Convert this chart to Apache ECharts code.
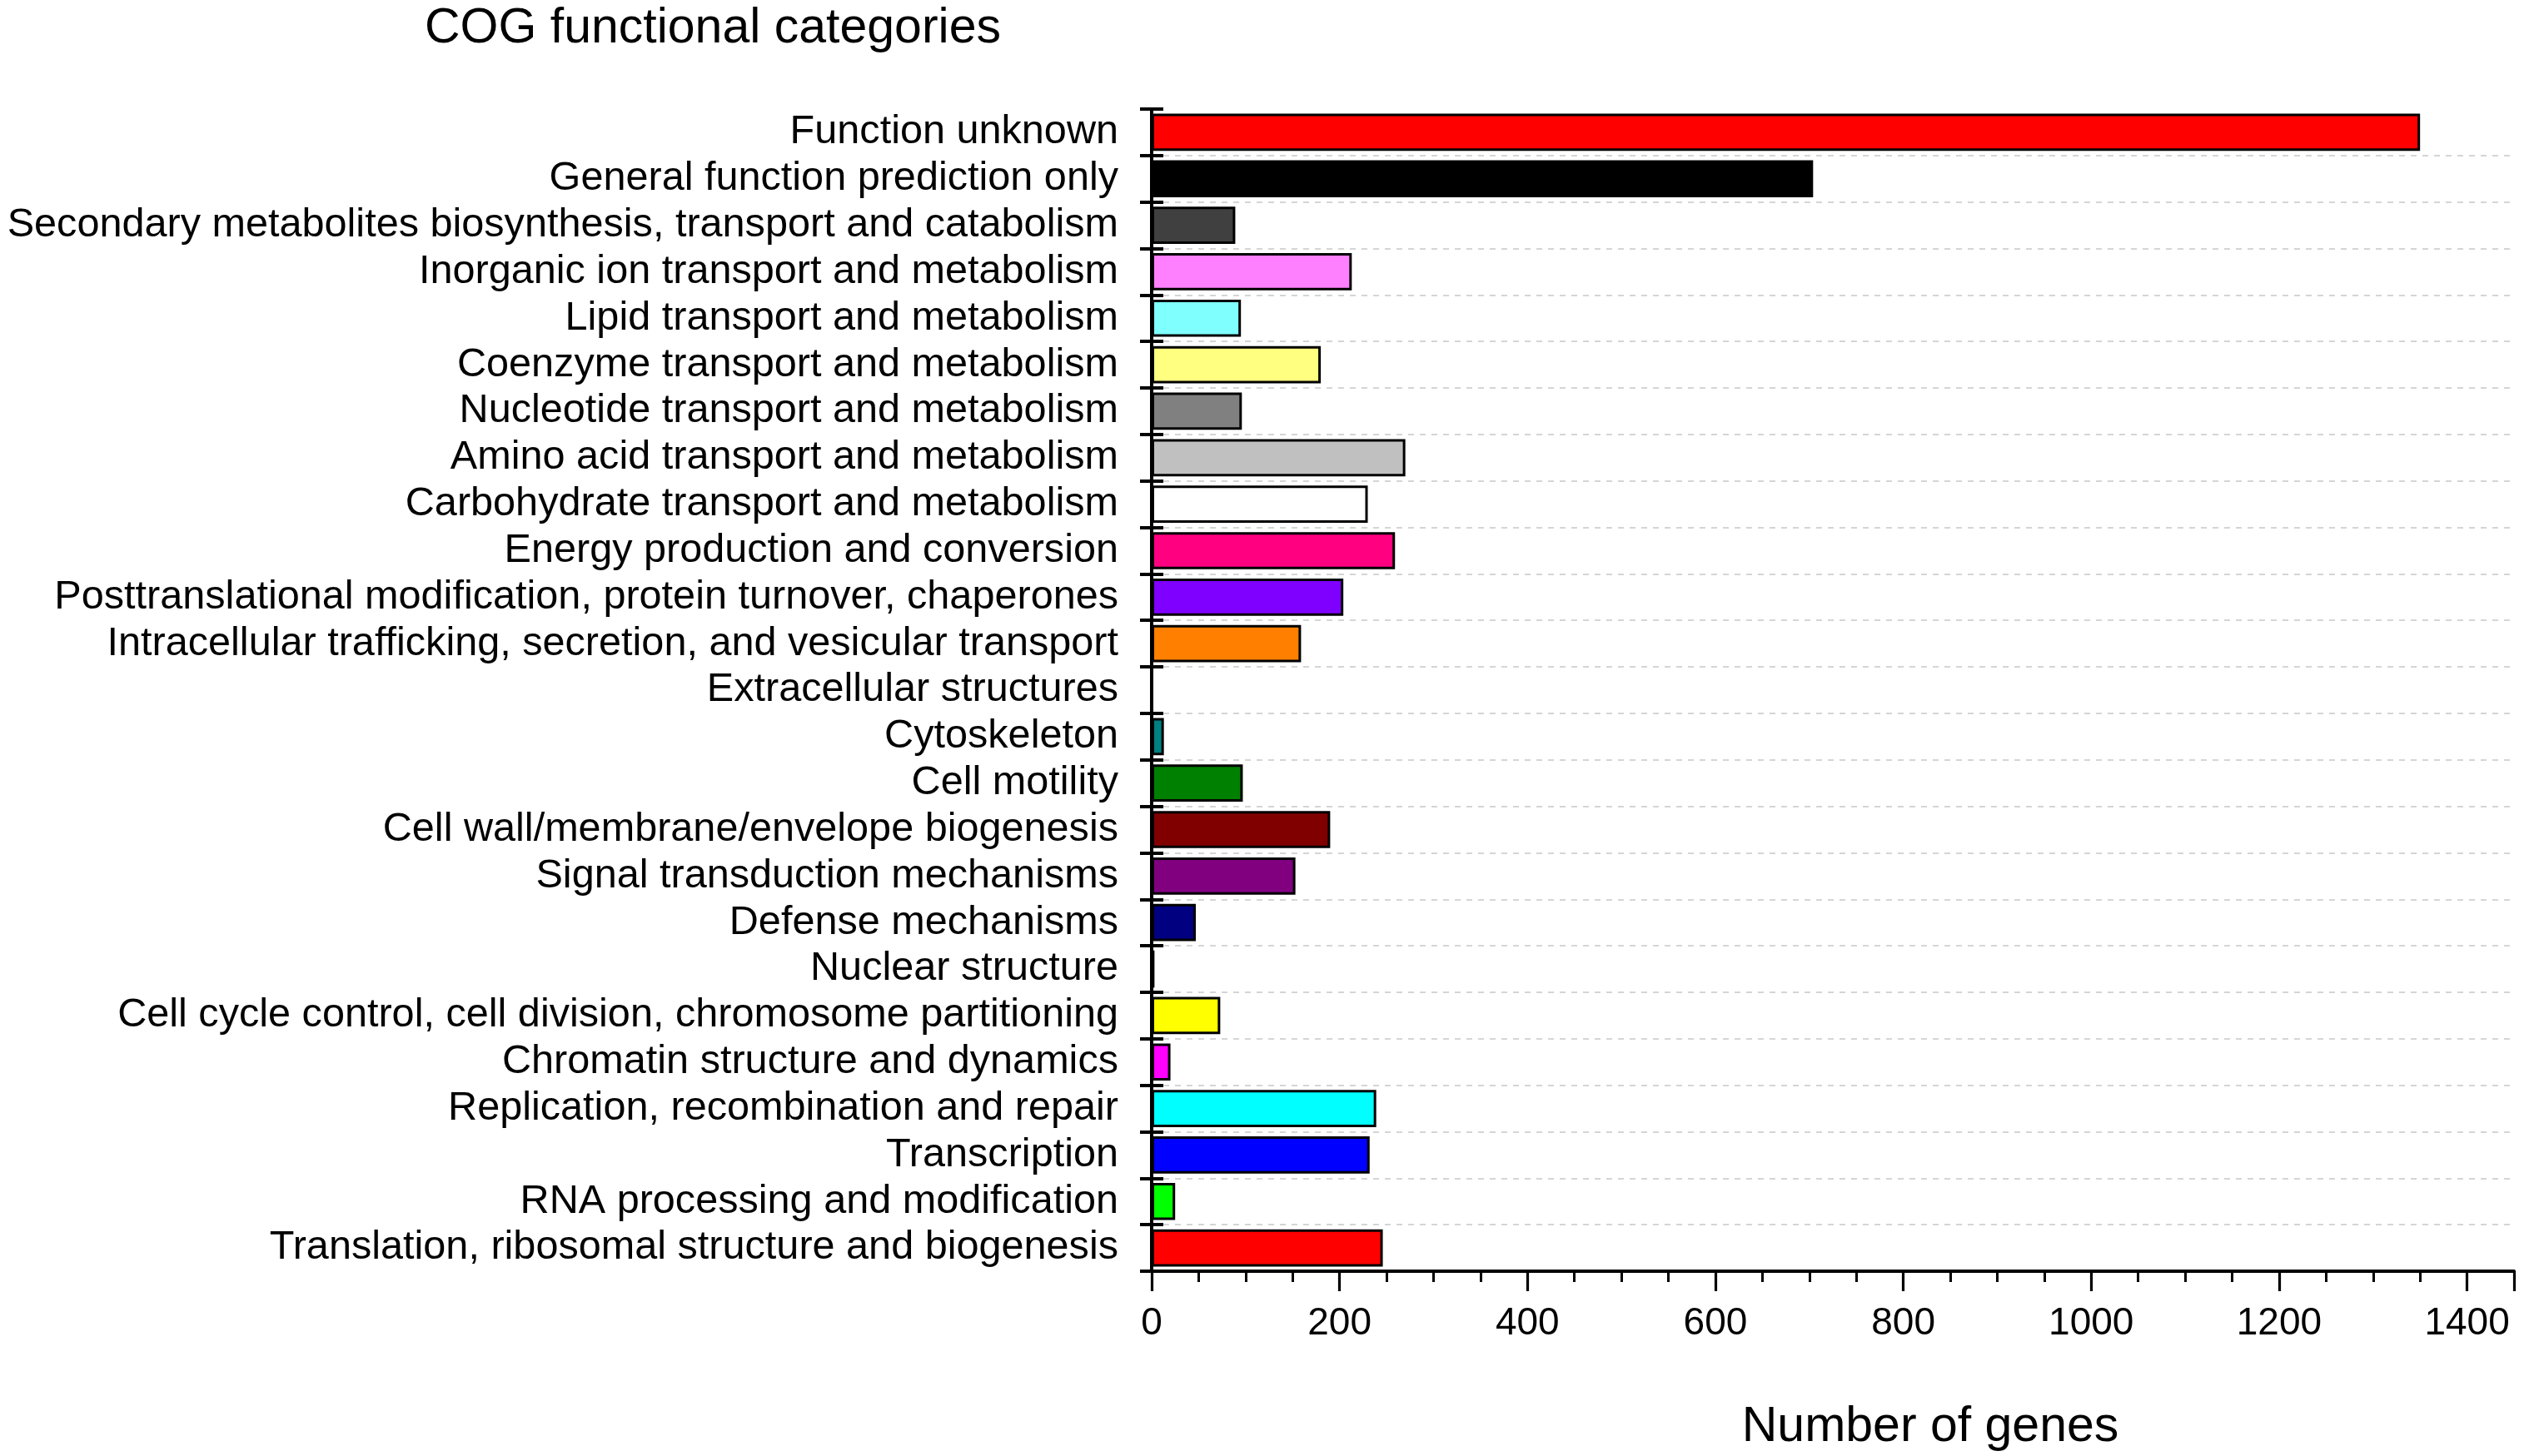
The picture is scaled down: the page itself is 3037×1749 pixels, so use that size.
<!DOCTYPE html>
<html>
<head>
<meta charset="utf-8">
<script src="https://cdn.jsdelivr.net/npm/echarts@6/dist/echarts.min.js"></script>
<style>
html,body{margin:0;padding:0;background:#fff;}
#chart{width:3037px;height:1749px;}
</style>
</head>
<body>
<div id="chart"></div>
<script>
var categories = [
  "Function unknown",
  "General function prediction only",
  "Secondary metabolites biosynthesis, transport and catabolism",
  "Inorganic ion transport and metabolism",
  "Lipid transport and metabolism",
  "Coenzyme transport and metabolism",
  "Nucleotide transport and metabolism",
  "Amino acid transport and metabolism",
  "Carbohydrate transport and metabolism",
  "Energy production and conversion",
  "Posttranslational modification, protein turnover, chaperones",
  "Intracellular trafficking, secretion, and vesicular transport",
  "Extracellular structures",
  "Cytoskeleton",
  "Cell motility",
  "Cell wall/membrane/envelope biogenesis",
  "Signal transduction mechanisms",
  "Defense mechanisms",
  "Nuclear structure",
  "Cell cycle control, cell division, chromosome partitioning",
  "Chromatin structure and dynamics",
  "Replication, recombination and repair",
  "Transcription",
  "RNA processing and modification",
  "Translation, ribosomal structure and biogenesis"
];
var geneCounts = [1350, 704, 89, 213, 95, 180, 96, 270, 230, 259, 204, 159, 0, 13, 97, 190, 153, 47, 3, 73, 20, 239, 232, 25, 246];
var barColors = [
  "#FF0000", "#000000", "#404040", "#FF80FF", "#80FFFF", "#FFFF80", "#808080",
  "#C0C0C0", "#FFFFFF", "#FF0080", "#8000FF", "#FF8000", "#808000", "#008080",
  "#008000", "#800000", "#800080", "#000080", "#000000", "#FFFF00", "#FF00FF",
  "#00FFFF", "#0000FF", "#00FF00", "#FF0000"
];
var xTicks = [0, 200, 400, 600, 800, 1000, 1200, 1400];

var chart = echarts.init(document.getElementById('chart'), null, {renderer: 'canvas'});
var FONT = "'Liberation Sans', Arial, sans-serif";

var option = {
  backgroundColor: '#ffffff',
  animation: false,
  title: {
    text: 'COG functional categories',
    left: 505,
    top: 0,
    textStyle: {fontFamily: FONT, fontSize: 59, fontWeight: 'normal', color: '#000'}
  },
  grid: {left: 1383, right: 18, top: 131, bottom: 1749 - 1529},
  xAxis: {
    type: 'value',
    min: 0,
    max: 1450,
    interval: 200,
    name: 'Number of genes',
    nameLocation: 'middle',
    nameGap: 158,
    nameTextStyle: {fontFamily: FONT, fontSize: 59, color: '#000', padding: [0, 0, 0, 234]},
    axisLine: {show: true, lineStyle: {color: '#000', width: 4}},
    axisTick: {show: true, length: 24, lineStyle: {color: '#000', width: 3.2}},
    minorTick: {show: true, splitNumber: 4, length: 13, lineStyle: {color: '#000', width: 3}},
    axisLabel: {
      fontFamily: FONT, fontSize: 46, color: '#000', margin: 40,
      formatter: function (v) { return xTicks.indexOf(v) >= 0 ? String(v) : ''; }
    },
    splitLine: {show: false}
  },
  yAxis: [
    {
      type: 'category',
      data: categories,
      inverse: true,
      boundaryGap: true,
      axisLine: {show: true, lineStyle: {color: '#000', width: 4}},
      axisTick: {show: true, interval: 0, inside: false, length: 14, lineStyle: {color: '#000', width: 4}},
      axisLabel: {interval: 0, fontFamily: FONT, fontSize: 48.6, color: '#000', margin: 40},
      splitLine: {show: true, interval: 0, showMinLine: false, showMaxLine: false,
        lineStyle: {color: '#c8c8c8', width: 1.5, type: [7, 7]}}
    },
    {
      type: 'category',
      data: categories,
      inverse: true,
      position: 'left',
      boundaryGap: true,
      axisLine: {show: false},
      axisTick: {show: true, interval: 0, inside: true, length: 14, lineStyle: {color: '#000', width: 4}},
      axisLabel: {show: false},
      splitLine: {show: false}
    }
  ],
  series: [{
    type: 'bar',
    yAxisIndex: 0,
    barCategoryGap: '20%',
    data: geneCounts.map(function (v, i) {
      return {value: v, itemStyle: {color: barColors[i]}};
    }),
    itemStyle: {borderColor: '#000', borderWidth: 3}
  }]
};
chart.setOption(option);
</script>
</body>
</html>
